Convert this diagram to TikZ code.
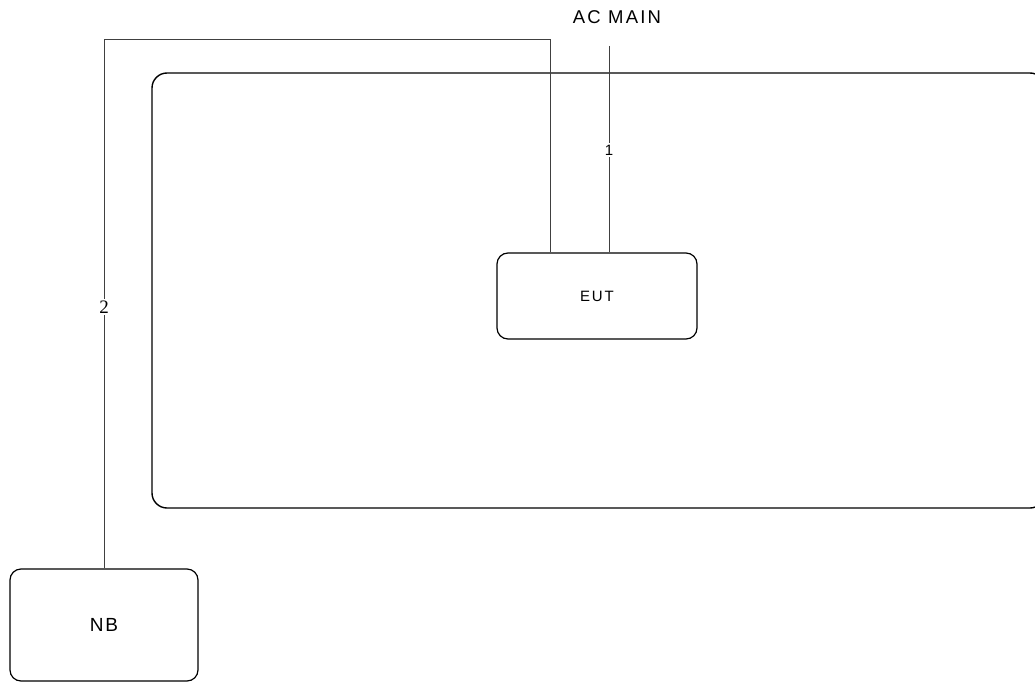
\documentclass[tikz,border=0pt]{standalone}
\usepackage{fontspec}
\setmainfont{Liberation Sans}
\newfontfamily\serifnum{Liberation Serif}
\begin{document}
\begin{tikzpicture}[x=1pt,y=-1pt,
  boxstyle/.style={draw=black, rounded corners=11pt, line width=1.2pt, inner sep=0pt},
  wire/.style={draw=black!75, line width=0.9pt},
  wirelabel/.style={fill=white, inner sep=2pt}]
\clip (0,0) rectangle (1035,682);
\node[boxstyle, rounded corners=15pt, line width=1.4pt, minimum width=893pt, minimum height=435pt] (room) at (598.5,290.5) {};
\node[boxstyle, minimum width=200pt, minimum height=86pt] (EUT) at (597,296) {\fontsize{15}{18}\selectfont\addfontfeatures{LetterSpace=12}EUT};
\node[boxstyle, minimum width=188pt, minimum height=112pt] (NB) at (104,625) {\fontsize{19}{22}\selectfont\addfontfeatures{LetterSpace=10}NB};
\node (acmain) at (617,17) {\fontsize{18.5}{22}\selectfont\addfontfeatures{LetterSpace=12}AC MAIN};
\coordinate (ac) at (609,46);
\coordinate (t2) at (104,39);
\coordinate (t3) at (550,39);
\draw[wire] (ac) -- (ac |- EUT.north);
\draw[wire] (NB.north) -- (t2) -- (t3) -- (t3 |- EUT.north);
\node[wirelabel] (l1) at (609,150) {\fontsize{15}{18}\selectfont 1};
\node[wirelabel] (l2) at (104,307) {\fontsize{19}{22}\serifnum 2};
\end{tikzpicture}
\end{document}
